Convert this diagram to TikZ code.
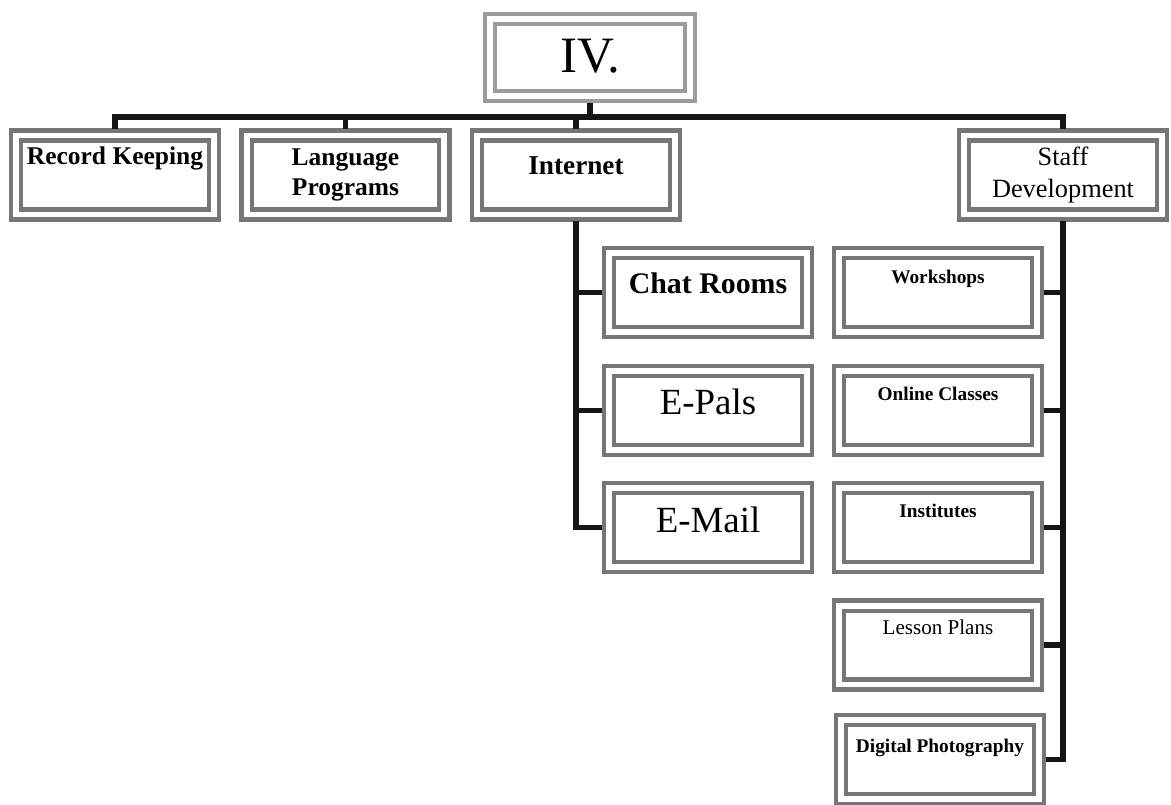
\documentclass[tikz,border=0pt]{standalone}
\usepackage{fontspec}
\setmainfont{Liberation Serif}
\usetikzlibrary{calc}
\definecolor{orgFrame}{HTML}{767676}
\definecolor{orgTop}{HTML}{9C9C9C}
\definecolor{orgLine}{HTML}{151515}
\tikzset{
  orgbox/.style={
    draw=orgFrame, line width=2.3pt, double=white, double distance=3.4pt,
    minimum width=3.96cm, minimum height=1.58cm, outer sep=0.14cm,
    inner sep=0pt, align=center
  },
  topbox/.style={orgbox, draw=orgTop, minimum width=4cm, minimum height=1.54cm},
  lbl/.style={inner sep=0pt, anchor=base},
  conn/.style={line width=3pt, orgLine}
}
\begin{document}
\begin{tikzpicture}[x=0.02cm, y=-0.02cm]
  \useasboundingbox (0,0) rectangle (1171,805);
  % top of the chart
  \node[topbox] (iv) at (590,57.5) {};
  \node[lbl, font=\fontsize{29}{34}\selectfont] (iv-t) at (iv.center |- 0,72) {IV.};
  % first row
  \node[orgbox] (rec) at (115,175) {};
  \node[orgbox, font=\fontsize{14.5}{17}\selectfont\bfseries] (lang) at (345.5,175) {Language\\Programs};
  \node[orgbox] (inet) at (576,175) {};
  \node[orgbox, font=\fontsize{15}{18}\selectfont] (staff) at (1063,175) {Staff\\Development};
  \node[lbl, font=\fontsize{14.5}{17}\selectfont\bfseries] (rec-t) at (rec.center |- 0,164) {Record Keeping};
  \node[lbl, font=\fontsize{15.5}{18}\selectfont\bfseries] (inet-t) at (inet.center |- 0,174) {Internet};
  % internet column
  \node[orgbox] (chat) at (708,292.5) {};
  \node[orgbox] (epals) at (708,410.5) {};
  \node[orgbox] (email) at (708,527.5) {};
  \node[lbl, font=\fontsize{17}{20}\selectfont\bfseries] (chat-t) at (chat.center |- 0,293) {Chat Rooms};
  \node[lbl, font=\fontsize{21}{25}\selectfont] (epals-t) at (epals.center |- 0,414) {E-Pals};
  \node[lbl, font=\fontsize{21}{25}\selectfont] (email-t) at (email.center |- 0,532) {E-Mail};
  % staff development column
  \node[orgbox] (work) at (938,292.5) {};
  \node[orgbox] (online) at (938,410.5) {};
  \node[orgbox] (inst) at (938,527.5) {};
  \node[orgbox] (lesson) at (938,645) {};
  \node[orgbox] (photo) at (940,759.5) {};
  \node[lbl, font=\fontsize{11}{13}\selectfont\bfseries] (work-t) at (work.center |- 0,283) {Workshops};
  \node[lbl, font=\fontsize{11}{13}\selectfont\bfseries] (online-t) at (online.center |- 0,400) {Online Classes};
  \node[lbl, font=\fontsize{11}{13}\selectfont\bfseries] (inst-t) at (inst.center |- 0,517) {Institutes};
  \node[lbl, font=\fontsize{12}{14}\selectfont] (lesson-t) at (lesson.center |- 0,634) {Lesson Plans};
  \node[lbl, font=\fontsize{11}{13}\selectfont\bfseries] (photo-t) at (photo.center |- 0,752) {Digital Photography};
  % connectors
  \coordinate (bus) at (0,117);
  \draw[conn] (rec.north) |- (staff.north |- bus) -- (staff.north);
  \draw[conn] (lang.north) -- (lang.north |- bus);
  \draw[conn] (inet.north) -- (inet.north |- bus);
  \draw[conn] (iv.south) -- (iv.south |- bus);
  \draw[conn] (inet.south) |- (email.west);
  \draw[conn] (inet.south |- chat.west) -- (chat.west);
  \draw[conn] (inet.south |- epals.west) -- (epals.west);
  \draw[conn] (staff.south) |- (photo.east);
  \draw[conn] (staff.south |- work.east) -- (work.east);
  \draw[conn] (staff.south |- online.east) -- (online.east);
  \draw[conn] (staff.south |- inst.east) -- (inst.east);
  \draw[conn] (staff.south |- lesson.east) -- (lesson.east);
\end{tikzpicture}
\end{document}
